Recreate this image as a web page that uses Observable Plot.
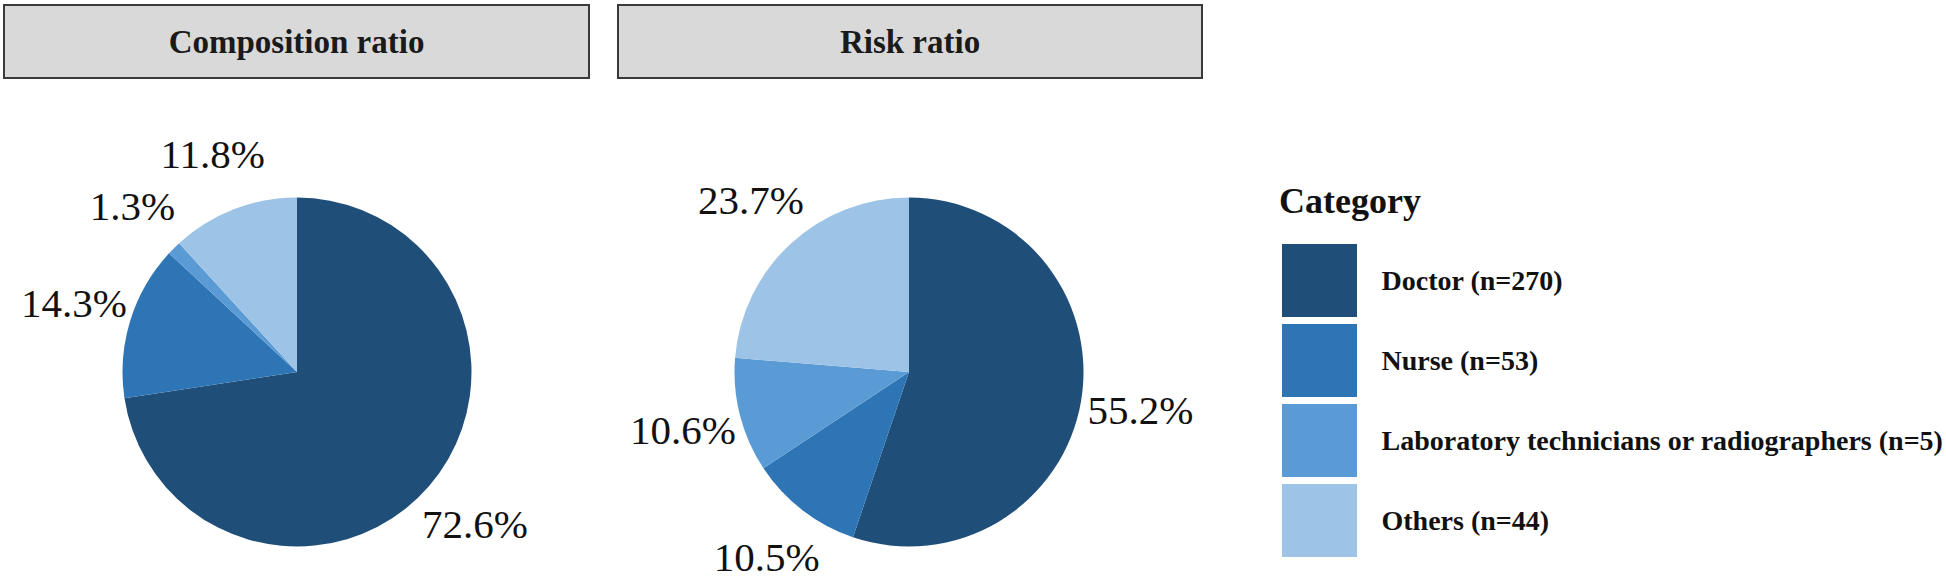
<!DOCTYPE html>
<html>
<head>
<meta charset="utf-8">
<script src="https://cdn.jsdelivr.net/npm/d3@7"></script>
<script src="https://cdn.jsdelivr.net/npm/@observablehq/plot@0.6"></script>
<style>
  html, body { margin: 0; padding: 0; background: #fff; }
  #root { position: relative; width: 1946px; height: 577px; overflow: hidden; font-family: "Liberation Serif", "Times New Roman", serif; }
  #root svg text { font-family: "Liberation Serif", "Times New Roman", serif !important; }
  .strip { position: absolute; box-sizing: border-box; height: 75px; top: 4px; background: #d9d9d9; border: 2px solid #3a3a3a;
           display: flex; align-items: center; justify-content: center; padding-top: 2px;
           font-weight: bold; font-size: 33px; color: #1a1a1a; }
  .abs { position: absolute; }
  #legendTitle { left: 1279px; top: 183px; font-size: 36px; line-height: 36px; font-weight: bold; color: #111; }
</style>
</head>
<body>
<div id="root"></div>
<script>
// ---- data ----
const categories = ["Doctor", "Nurse", "Laboratory technicians or radiographers", "Others"];
const counts = [270, 53, 5, 44];
const compositionRatio = [72.6, 14.3, 1.3, 11.8];
const riskRatio = [55.2, 10.5, 10.6, 23.7];
const panelTitles = ["Composition ratio", "Risk ratio"];
const legendTitle = "Category";
const colors = ["#1f4e79", "#2e75b6", "#5b9bd5", "#9dc3e6"];

const legendLabels = categories.map((c, i) => `${c} (n=${counts[i]})`);
const colorScale = Plot.scale({color: {type: "ordinal", domain: categories, range: colors}});

const root = document.getElementById("root");

// layout (pixels)
const R = 174.5;          // pie radius
const PW = 600, PH = 577; // pie plot size
const cy = 372;           // pie centre y
const panels = [
  {title: panelTitles[0], values: compositionRatio, cx: 296.5, strip: [3, 587]},
  {title: panelTitles[1], values: riskRatio, cx: 909, strip: [617, 586]}
];

function pieMark(rows) {
  return (index, scales) => {
    const x0 = scales.x(0), y0 = scales.y(0);
    const r = scales.x(1) - scales.x(0);
    const arcs = d3.pie().value(d => d.value).sort(null)(rows);
    const g = d3.create("svg:g").attr("transform", `translate(${x0},${y0})`);
    g.selectAll("path").data(arcs).join("path")
      .attr("d", d3.arc().innerRadius(0).outerRadius(r))
      .attr("fill", d => colorScale.apply(d.data.category));
    return g.node();
  };
}

panels.forEach(p => {
  const strip = document.createElement("div");
  strip.className = "strip";
  strip.style.left = p.strip[0] + "px";
  strip.style.width = p.strip[1] + "px";
  strip.textContent = p.title;
  root.appendChild(strip);

  const rows = categories.map((c, i) => ({category: c, value: p.values[i]}));
  const arcs = d3.pie().value(d => d.value).sort(null)(rows);
  const labels = arcs.map(a => {
    const mid = (a.startAngle + a.endAngle) / 2;
    return {x: 1.341 * Math.sin(mid), y: 1.341 * Math.cos(mid), text: a.data.value.toFixed(1) + "%"};
  });

  const chart = Plot.plot({
    width: PW, height: PH,
    margin: 0,
    x: {domain: [-PW / 2 / R, PW / 2 / R], axis: null},
    y: {domain: [-(PH - cy) / R, cy / R], axis: null},
    style: {background: "transparent", overflow: "visible"},
    marks: [
      pieMark(rows),
      Plot.text(labels, {x: "x", y: "y", text: "text", fontSize: 41, fontFamily: "Liberation Serif", fill: "#111",
                         textAnchor: "middle", lineAnchor: "middle"})
    ]
  });
  chart.classList.add("abs");
  chart.style.left = (p.cx - PW / 2) + "px";
  chart.style.top = "0px";
  root.appendChild(chart);
});

// legend
const lt = document.createElement("div");
lt.id = "legendTitle"; lt.className = "abs"; lt.textContent = legendTitle;
root.appendChild(lt);

const legendRows = categories.map((c, i) => ({category: c, label: legendLabels[i]}));
const legend = Plot.plot({
  width: 664, height: 317, margin: 0,
  x: {domain: ["swatch"], range: [0, 75], padding: 0, axis: null},
  y: {domain: categories, paddingInner: 0.0864, paddingOuter: 0, axis: null},
  color: {domain: categories, range: colors},
  style: {background: "transparent", overflow: "visible"},
  marks: [
    Plot.cell(legendRows, {x: () => "swatch", y: "category", fill: "category"}),
    Plot.text(legendRows, {x: () => "swatch", y: "category", text: "label", dx: 61.5, textAnchor: "start", lineAnchor: "middle",
                           fontSize: 28, fontWeight: "bold", fontFamily: "Liberation Serif", fill: "#111"})
  ]
});
legend.classList.add("abs");
legend.style.left = "1282px";
legend.style.top = "242px";
root.appendChild(legend);
</script>
</body>
</html>
